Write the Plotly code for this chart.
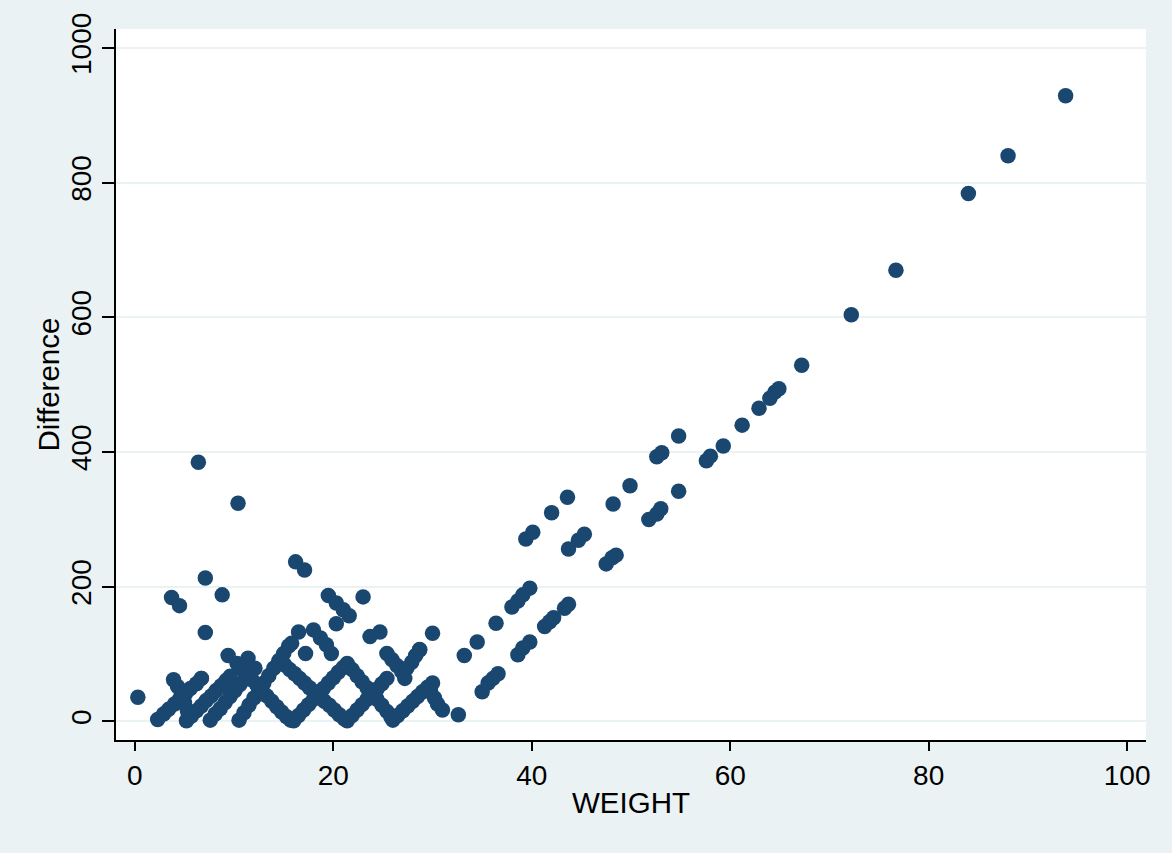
import plotly.graph_objects as go

# puntos sueltos (zona baja de WEIGHT)
sueltos_w = [0.3, 3.7, 4.5, 7.1, 8.8, 7.1, 6.4, 10.4, 16.2, 17.1, 19.5, 20.3, 21.0, 21.6, 20.3,
             23.0, 23.7, 24.7, 30.0, 28.7, 3.9, 6.7, 9.4, 11.4, 32.6]
sueltos_d = [36, 184, 172, 213, 188, 132, 385, 324, 237, 225, 187, 176, 166, 157, 145,
             185, 126, 133, 131, 106, 62, 64, 98, 94, 10]

# grupo arriba del cruce (16-20)
grupo_w = [15.8, 16.5, 18.0, 18.7, 19.3, 19.8, 17.2]
grupo_d = [116, 133, 136, 124, 114, 101, 101]

# cadenas del bloque denso
sube_a_w = [2.3, 2.9, 3.4, 4.0, 4.5, 5.1, 5.6, 6.2, 6.7]
sube_a_d = [3, 11, 18, 26, 33, 41, 49, 56, 64]
baja_a_w = [4.3, 4.7, 5.0, 5.3]
baja_a_d = [52, 40, 28, 16]
sube_b_w = [5.2, 5.7, 6.2, 6.7, 7.2, 7.7, 8.2, 8.7, 9.2, 9.6]
sube_b_d = [1, 8, 16, 23, 31, 38, 46, 53, 61, 67]
sube_c_w = [7.6, 8.1, 8.6, 9.1, 9.6, 10.1, 10.6, 11.1, 11.6, 12.1]
sube_c_d = [2, 11, 19, 28, 37, 46, 55, 63, 71, 79]
sube_d_w = [10.5, 11.0, 11.5, 12.0, 12.5, 13.0, 13.5, 14.0, 14.5, 15.0, 15.5]
sube_d_d = [2, 13, 24, 35, 46, 57, 68, 79, 90, 101, 112]
baja_b_w = [10.3, 10.8, 11.3, 11.8, 12.3, 12.8, 13.3, 13.8, 14.3, 14.8, 15.3, 15.7]
baja_b_d = [86, 78, 70, 62, 54, 46, 38, 30, 22, 14, 7, 2]
baja_c_w = [14.6, 15.1, 15.6, 16.1, 16.6, 17.1, 17.6, 18.1, 18.6, 19.1, 19.6, 20.1, 20.6, 21.1]
baja_c_d = [91, 84, 77, 71, 64, 57, 50, 44, 37, 30, 24, 17, 10, 4]
sube_e_w = [16.0, 16.5, 17.0, 17.5, 18.0, 18.5, 19.0, 19.5, 20.0, 20.5, 21.0, 21.4]
sube_e_d = [1, 9, 17, 25, 33, 41, 49, 57, 65, 73, 80, 86]
baja_d_w = [21.9, 22.4, 22.9, 23.4, 23.9, 24.4, 24.9, 25.4, 25.8]
baja_d_d = [77, 68, 59, 50, 41, 33, 24, 15, 7]
sube_f_w = [21.4, 21.9, 22.4, 22.9, 23.4, 23.9, 24.4, 24.9, 25.4]
sube_f_d = [1, 9, 17, 25, 33, 41, 48, 56, 64]
sube_g_w = [26.0, 26.5, 27.0, 27.5, 28.0, 28.5, 29.0, 29.5, 30.0]
sube_g_d = [2, 9, 16, 23, 30, 37, 44, 51, 57]
baja_e_w = [25.4, 25.9, 26.4, 26.9, 27.2, 27.4, 27.9, 28.3, 28.7]
baja_e_d = [101, 92, 83, 74, 64, 79, 88, 98, 107]
baja_f_w = [29.8, 30.2, 30.5, 31.0]
baja_f_d = [44, 35, 26, 17]

# tramo 33-94 (tendencia creciente)
alto_w = [33.2, 34.5, 36.4, 35.0, 35.6, 36.1, 36.6, 38.0, 38.6, 39.1, 39.8, 38.6, 39.1, 39.8,
          39.4, 40.1, 41.3, 41.8, 42.2, 42.0, 43.3, 43.7, 43.6, 43.7, 44.7, 45.3, 47.5, 48.1,
          48.5, 48.2, 49.9, 51.8, 52.6, 53.0, 52.6, 53.1, 54.8, 54.8, 57.6, 58.0, 59.3, 61.2,
          62.9, 64.0, 64.5, 64.9, 67.2, 72.2, 76.7, 84.0, 88.0, 93.8]
alto_d = [98, 118, 146, 44, 57, 64, 71, 170, 179, 188, 198, 99, 109, 118,
          271, 281, 141, 148, 154, 310, 168, 174, 333, 256, 269, 278, 234, 243,
          247, 323, 350, 300, 308, 316, 393, 399, 424, 342, 387, 394, 409, 440,
          465, 480, 489, 494, 529, 604, 670, 784, 840, 929]

peso = (sueltos_w + grupo_w + sube_a_w + baja_a_w + sube_b_w + sube_c_w + sube_d_w + baja_b_w
        + baja_c_w + sube_e_w + baja_d_w + sube_f_w + sube_g_w + baja_e_w + baja_f_w + alto_w)
dif = (sueltos_d + grupo_d + sube_a_d + baja_a_d + sube_b_d + sube_c_d + sube_d_d + baja_b_d
       + baja_c_d + sube_e_d + baja_d_d + sube_f_d + sube_g_d + baja_e_d + baja_f_d + alto_d)

azul = "#1a476f"
fondo = "#eaf2f3"
familia = "Arial, Liberation Sans, sans-serif"
fuente = dict(family=familia, size=28, color="black")
fuente_titulo = dict(family=familia, size=29.5, color="black")

fig = go.Figure()
fig.add_trace(go.Scatter(x=peso, y=dif, mode="markers",
                         marker=dict(color=azul, size=15.5, line=dict(width=0)),
                         showlegend=False))

fig.update_layout(width=1172, height=853, paper_bgcolor=fondo, plot_bgcolor="white",
                  margin=dict(l=116, r=26, t=29, b=113), font=fuente)
fig.update_xaxes(range=[-1.9, 101.9], tickvals=[0, 20, 40, 60, 80, 100], showgrid=False,
                 zeroline=False, showline=True, linecolor="black", linewidth=2,
                 ticks="outside", ticklen=9, tickwidth=2, tickcolor="black",
                 title=dict(text="WEIGHT", standoff=3, font=fuente_titulo), tickfont=fuente)
fig.update_yaxes(range=[-27.5, 1028.2], tickvals=[0, 200, 400, 600, 800, 1000],
                 showgrid=True, gridcolor=fondo, gridwidth=2, zeroline=False,
                 showline=True, linecolor="black", linewidth=2,
                 ticks="outside", ticklen=12, tickwidth=2, tickcolor="black",
                 tickangle=-90, tickfont=fuente)

# titulo del eje y como anotacion (posicion mas fina)
fig.add_annotation(text="Difference", textangle=-90, xref="paper", yref="paper",
                   x=-0.066, y=0.5, xanchor="center", yanchor="middle",
                   showarrow=False, font=fuente_titulo)

fig.write_html("out.html", config={"displayModeBar": False},
               post_script="document.body.style.margin='0';document.body.style.background='#eaf2f3';")
